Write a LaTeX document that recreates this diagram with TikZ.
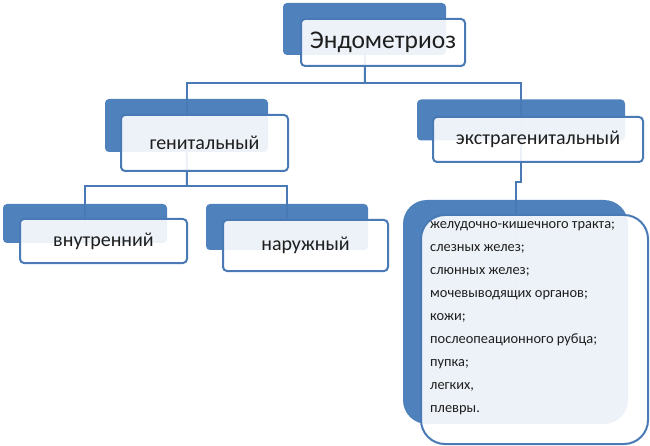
\documentclass[tikz,border=0pt]{standalone}
\usepackage{fontspec}
\setmainfont{Carlito}
\definecolor{oblue}{HTML}{4F81BD}
\definecolor{oline}{HTML}{4A7AB5}
\definecolor{txt}{HTML}{1E1E1E}
\begin{document}
\begin{tikzpicture}[x=1pt,y=-1pt,
  back/.style={draw=none,fill=oblue,rounded corners=4pt,minimum width=#1,inner sep=0pt},
  front/.style={draw=oline,line width=2pt,fill=white,fill opacity=0.9,text opacity=1,
    rounded corners=4pt,inner sep=0pt,text=txt,font=\fontsize{20}{22}\selectfont},
  conn/.style={draw=oline,line width=2pt}]
\useasboundingbox (0,0) rectangle (650,446);
% connectors (behind boxes)
\coordinate (j1) at (365,83);
\coordinate (j2) at (187,186);
\coordinate (k1) at (521,182);
% back boxes
\node[back=163pt,minimum height=52pt] (tb) at (364.5,29) {};
\node[back=163pt,minimum height=53pt] (gb) at (186.5,125.5) {};
\node[back=208pt,minimum height=41pt] (eb) at (521,120) {};
\node[back=164pt,minimum height=39pt] (vb) at (85,223.5) {};
\node[back=162pt,minimum height=46pt] (nb) at (287,227) {};
\node[back=225pt,minimum height=224pt,rounded corners=24pt] (lb) at (515.5,312) {};
\draw[conn] (tb.center) -- (j1);
\draw[conn] (gb.center) |- (j1) -| (eb.center);
\draw[conn] (gb.center) -- (j2);
\draw[conn] (vb.center) |- (j2) -| (nb.center);
\draw[conn] (eb.center) -- (k1) -| (lb.center);
% front boxes
\node[front,minimum width=164pt,minimum height=47pt,font=\fontsize{25.5}{27}\selectfont] (tf) at (383,42.5) {\raisebox{-1.5pt}{Эндометриоз}};
\node[front,minimum width=167pt,minimum height=56pt] (gf) at (204.5,143) {генитальный};
\node[front,minimum width=210pt,minimum height=45pt] (ef) at (538,139.5) {экстрагенитальный};
\node[front,minimum width=167pt,minimum height=44pt] (vf) at (103.5,241) {внутренний};
\node[front,minimum width=165pt,minimum height=51pt] (nf) at (305.5,245.5) {наружный};
\node[front,minimum width=227pt,minimum height=229pt,rounded corners=24pt] (lf) at (534.5,329.5) {};
\node[anchor=north west,inner sep=0pt,align=left,text=txt,
  font=\fontsize{14.4}{23}\selectfont] (list) at (430,221)
  {желудочно-кишечного тракта;\\слезных желез;\\слюнных желез;\\мочевыводящих органов;\\кожи;\\послеопеационного рубца;\\пупка;\\легких,\\плевры.};
\end{tikzpicture}
\end{document}
